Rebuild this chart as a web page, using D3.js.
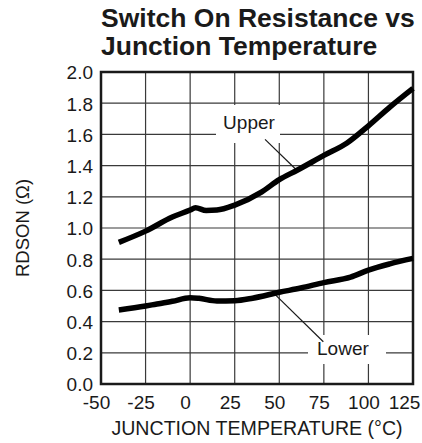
<!DOCTYPE html>
<html><head><meta charset="utf-8">
<script src="https://cdn.jsdelivr.net/npm/d3@7"></script>
<style>
html,body{margin:0;padding:0;background:#fff;}
svg{display:block;font-family:"Liberation Sans",Arial,sans-serif;}
</style></head>
<body>
<svg id="c" width="422" height="443"></svg>
<script>
const titleLines = ["Switch On Resistance vs", "Junction Temperature"];
const xTicks = [-50, -25, 0, 25, 50, 75, 100, 125];
const yTicks = [0.0, 0.2, 0.4, 0.6, 0.8, 1.0, 1.2, 1.4, 1.6, 1.8, 2.0];
const xTitle = "JUNCTION TEMPERATURE (°C)";
const yTitle = "RDSON (Ω)";

const upperT = [-40, -25, -10, 0, 3, 9, 15, 25, 40, 50, 60, 75, 88, 100, 112, 125];
const upperV = [0.908, 0.98, 1.07, 1.115, 1.13, 1.112, 1.115, 1.147, 1.23, 1.31, 1.37, 1.465, 1.545, 1.655, 1.775, 1.895];
const lowerT = [-40, -25, -20, -10, 0, 5, 15, 25, 35, 50, 62, 75, 90, 100, 112, 125];
const lowerV = [0.474, 0.50, 0.51, 0.53, 0.553, 0.549, 0.532, 0.534, 0.55, 0.588, 0.615, 0.65, 0.685, 0.73, 0.77, 0.805];

const labelNames = ["Upper", "Lower"];
const labelPos = [[33, 1.635], [85.7, 0.186]];
const leaderFrom = [[42, 1.568], [48, 0.57]];
const leaderTo = [[59.7, 1.372], [74.7, 0.271]];

const svg = d3.select("#c");
const m = {l: 101, r: 413, t: 72, b: 384};
const x = d3.scaleLinear().domain([-50, 125]).range([m.l, m.r]);
const y = d3.scaleLinear().domain([0, 2.0]).range([m.b, m.t]);

// title
svg.append("g").selectAll("text").data(titleLines).join("text")
  .attr("x", 101).attr("y", (d, i) => 27 + i * 28)
  .attr("font-size", 26.5).attr("font-weight", "bold").attr("fill", "#1a1a1a")
  .text(d => d);

// grid
const grid = svg.append("g").attr("stroke", "#3a3a3a").attr("stroke-width", 1.2);
grid.selectAll(".vx").data(xTicks.slice(1, -1)).join("line")
  .attr("x1", d => x(d)).attr("x2", d => x(d)).attr("y1", m.t).attr("y2", m.b);
grid.selectAll(".hy").data(yTicks.slice(1, -1)).join("line")
  .attr("y1", d => y(d)).attr("y2", d => y(d)).attr("x1", m.l).attr("x2", m.r);

// label boxes (white) that interrupt gridlines
const boxes = [[216, 105, 64, 38], [308, 335, 78, 29]];
svg.append("g").selectAll("rect").data(boxes).join("rect")
  .attr("x", d => d[0]).attr("y", d => d[1]).attr("width", d => d[2]).attr("height", d => d[3])
  .attr("fill", "#fff");

// frame
svg.append("rect").attr("x", m.l).attr("y", m.t).attr("width", m.r - m.l).attr("height", m.b - m.t)
  .attr("fill", "none").attr("stroke", "#1a1a1a").attr("stroke-width", 2.5);

// axes tick labels
const xAxis = d3.axisBottom(x).tickValues(xTicks).tickSize(0).tickFormat(d => String(d));
const gx = svg.append("g").attr("transform", `translate(0,${m.b})`).call(xAxis);
gx.select(".domain").remove();
gx.selectAll("text").attr("font-size", 19).attr("fill", "#1a1a1a")
  .attr("font-family", "'Liberation Sans',Arial,sans-serif")
  .attr("dx", (d, i) => i === xTicks.length - 1 ? -9 : -5).attr("y", 25).attr("dy", 0);

const yAxis = d3.axisLeft(y).tickValues(yTicks).tickSize(0).tickFormat(d3.format(".1f"));
const gy = svg.append("g").attr("transform", `translate(${m.l},0)`).call(yAxis);
gy.select(".domain").remove();
gy.selectAll("text").attr("font-size", 19).attr("fill", "#1a1a1a")
  .attr("font-family", "'Liberation Sans',Arial,sans-serif").attr("x", -8).attr("dy", "0.36em");

// axis titles
svg.append("text").attr("x", (m.l + m.r) / 2).attr("y", 435).attr("text-anchor", "middle")
  .attr("font-size", 19.6).attr("fill", "#1a1a1a").text(xTitle);
svg.append("text").attr("transform", `translate(28.5,${(m.t + m.b) / 2}) rotate(-90)`)
  .attr("text-anchor", "middle").attr("font-size", 18.5).attr("fill", "#1a1a1a").text(yTitle);

// leaders
svg.append("g").selectAll("line").data(leaderFrom).join("line")
  .attr("x1", d => x(d[0])).attr("y1", d => y(d[1]))
  .attr("x2", (d, i) => x(leaderTo[i][0])).attr("y2", (d, i) => y(leaderTo[i][1]))
  .attr("stroke", "#1a1a1a").attr("stroke-width", 1.2);

// curves
const line = d3.line().x(d => x(d[0])).y(d => y(d[1])).curve(d3.curveMonotoneX);
const series = [d3.zip(upperT, upperV), d3.zip(lowerT, lowerV)];
svg.append("g").selectAll("path").data(series).join("path")
  .attr("d", line).attr("fill", "none").attr("stroke", "#000").attr("stroke-width", 5.5)
  .attr("stroke-linejoin", "round");

// label texts
svg.append("g").selectAll("text").data(labelNames).join("text")
  .attr("x", (d, i) => x(labelPos[i][0])).attr("y", (d, i) => y(labelPos[i][1]))
  .attr("font-size", 19).attr("fill", "#1a1a1a").attr("text-anchor", "middle")
  .text(d => d);
</script>
</body></html>
